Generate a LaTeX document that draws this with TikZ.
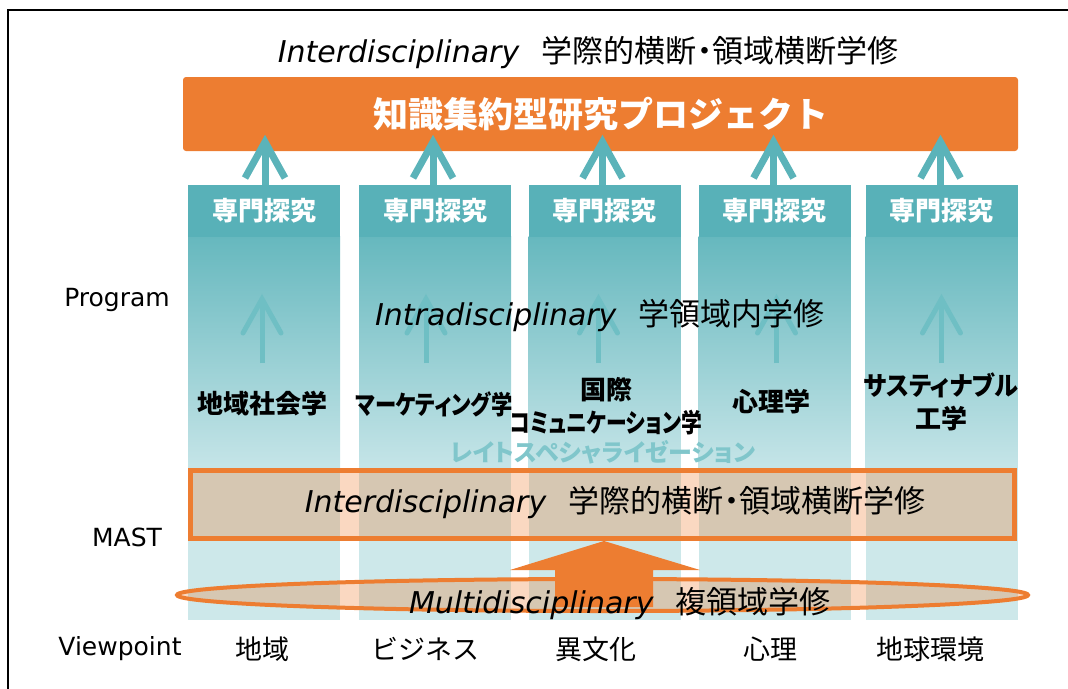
\documentclass[tikz,border=0pt]{standalone}
\usepackage{fontspec}
\setmainfont{DejaVu Sans}
\newfontfamily\jp{Noto Sans CJK JP}
\newfontfamily\jpp{Noto Sans CJK JP}[RawFeature=+palt]
\usetikzlibrary{arrows.meta,shapes.geometric,calc}
\definecolor{org}{HTML}{ED7D31}
\definecolor{tealh}{HTML}{58B1B8}
\definecolor{tealt}{HTML}{66B8BE}
\definecolor{tealb}{HTML}{C6E5E8}
\definecolor{teall}{HTML}{CDE8EA}
\definecolor{tarr}{HTML}{5BB3B9}
\definecolor{tin}{HTML}{6FBFC4}
\definecolor{late}{HTML}{80C6CB}
\newcommand{\fs}[1]{\fontsize{#1}{#1}\selectfont}
\newcommand{\cj}[1]{{\jpp\fs{31}#1}}
\begin{document}
\begin{tikzpicture}[x=1pt,y=-1pt,
  every node/.style={inner sep=0pt, outer sep=0pt},
  hdr/.style={fill=tealh, minimum width=152, minimum height=52, text=white, font=\jp\bfseries\fs{26}},
  outarr/.style={draw=tarr, line width=7},
  inarr/.style={draw=tin, line width=5},
  big/.style={font=\fs{30}},
  side/.style={font=\fs{25}},
  vp/.style={font=\jp\fs{27}},
  field/.style={font=\jpp\bfseries\fs{26}, align=center},
]
\path[use as bounding box] (0,0) rectangle (1068,688);
\draw[line width=2, black] (8,690) -- (8,10) -- (1070,10);

% columns
\foreach \i/\cx in {1/264,2/435,3/604.5,4/774.5,5/941.5}{
  \shade[top color=tealt, bottom color=tealb] (\cx-76,236) rectangle (\cx+76,470);
  \fill[teall] (\cx-76,469.5) rectangle (\cx+76,620);
  \node[hdr] (h\i) at (\cx,211) {専門探究};
}

% inner arrows
\foreach \i/\ox in {1/-2,2/-9,3/-6,4/2,5/0}{
  \coordinate (b\i) at ($(h\i.south)+(\ox,126)$);
  \coordinate (t\i) at ($(b\i)+(0,-64)$);
  \draw[inarr] (b\i) -- (t\i);
  \draw[inarr, line cap=round, line join=miter] ($(t\i)+(-19,34)$) -- (t\i) -- ($(t\i)+(19,34)$);
}

% top bar
\node[fill=org, rounded corners=3, minimum width=835, minimum height=74] (bar) at (600.5,114) {};
\node[text=white, font=\jp\bfseries\fs{35}] (bartext) at (bar.center) {知識集約型研究プロジェクト};

% outer arrows
\foreach \i/\ox in {1/1,2/-2,3/-2,4/-1,5/-1}{
  \coordinate (o\i) at ($(h\i.north)+(\ox,-43)$);
  \draw[outarr] ($(h\i.north)+(\ox,0)$) -- (o\i);
  \draw[outarr, line join=miter] ($(o\i)+(-20,36)$) -- (o\i) -- ($(o\i)+(20,36)$);
}

% title
\node[big] (title) at (588,53) {\itshape Interdisciplinary\hspace{.75em}\cj{学際的横断・領域横断学修}};

% intradisciplinary
\node[big] (intra) at (600,316) {\itshape Intradisciplinary\hspace{.75em}\cj{学領域内学修}};

% field labels
\node[field] (f1) at (262,404) {地域社会学};
\node[field] (f2) at (434,404) {\scalebox{0.82}[1]{マーケティング学}};
\node[field] (f3) at (606,406) {国際\\[7pt]\scalebox{0.8}[1]{コミュニケーション学}};
\node[field] (f4) at (771,402) {心理学};
\node[field] (f5) at (941,402) {\scalebox{0.93}[1]{サスティナブル}\\[7pt]工学};

\node[font=\jpp\bfseries\fs{24}, text=late] (late) at (603,452) {レイトスペシャライゼーション};

% MAST box
\node[draw=org, line width=5, fill=org, fill opacity=0.3, minimum width=824, minimum height=68] (mast) at (602.5,504.5) {};
\node[big] (masttext) at (615,503) {\itshape Interdisciplinary\hspace{.75em}\cj{学際的横断・領域横断学修}};

% big arrow
\coordinate (tip) at ($(mast.south)+(1.5,2.5)$);
\fill[org] (tip) -- ($(tip)+(96,29)$) -- ($(tip)+(49,29)$) -- ($(tip)+(49,66)$) -- ($(tip)+(-49,66)$) -- ($(tip)+(-49,29)$) -- ($(tip)+(-94,29)$) -- cycle;

% ellipse
\node[ellipse, draw=org, line width=4, fill=org, fill opacity=0.3, minimum width=851, minimum height=32] (multi) at (602.5,595) {};
\node[big] (multitext) at (620,604) {\itshape Multidisciplinary\hspace{.75em}\cj{複領域学修}};

% side labels
\node[side] (prog) at (117,300) {Program};
\node[side] (mastl) at (127,537) {MAST};
\node[side] (vpl) at (120,649) {Viewpoint};

% viewpoint labels
\node[vp] (v1) at (262,649) {地域};
\node[vp] (v2) at (425,649) {ビジネス};
\node[vp] (v3) at (596,649) {異文化};
\node[vp] (v4) at (770,649) {心理};
\node[vp] (v5) at (930,649) {地球環境};
\end{tikzpicture}
\end{document}
